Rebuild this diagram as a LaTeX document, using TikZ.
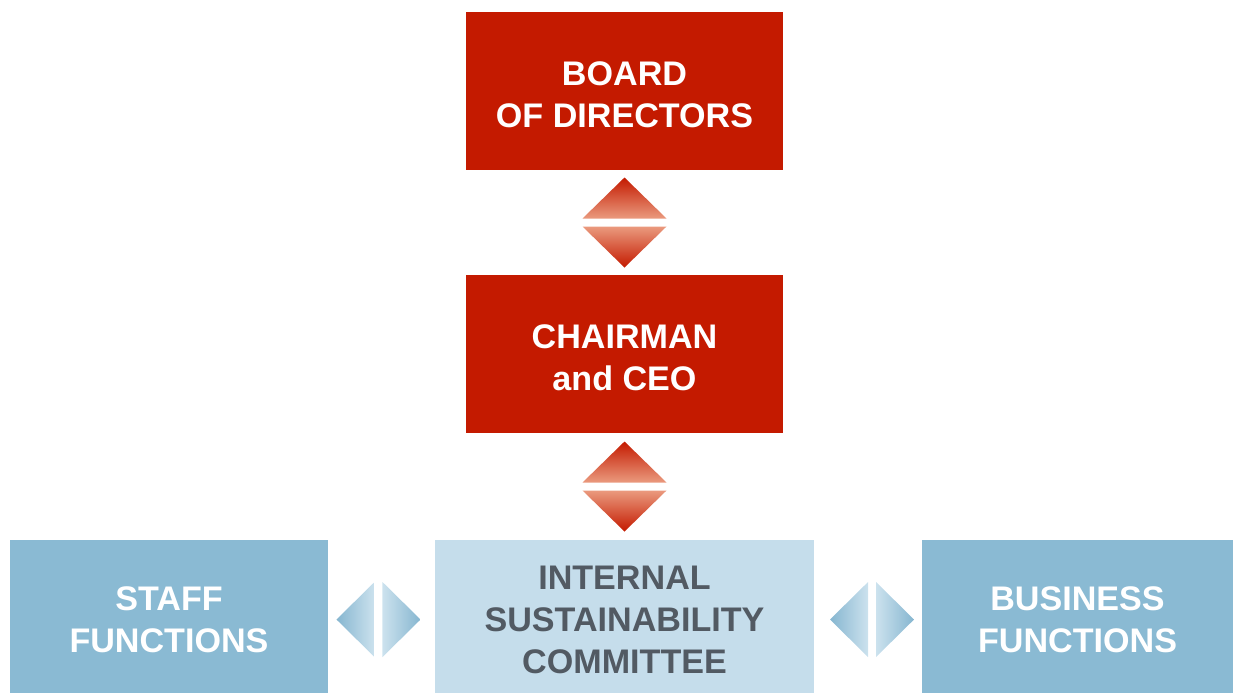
\documentclass[tikz,border=0pt]{standalone}
\usepackage{fontspec}
\setmainfont{Liberation Sans}
\usepackage{xcolor}
\usetikzlibrary{calc}

\definecolor{boardred}{HTML}{C41A00}
\definecolor{arrowred}{HTML}{C41A00}
\definecolor{arrowsalmon}{HTML}{EA9A7E}
\definecolor{funcblue}{HTML}{8ABAD3}
\definecolor{committeeblue}{HTML}{C5DDEB}
\definecolor{committeetext}{HTML}{525A63}
\definecolor{arrowblue}{HTML}{86B6D0}
\definecolor{arrowpale}{HTML}{CCE2EE}

\tikzset{
  orgbox/.style={minimum height=1.58cm, align=center, inner sep=0pt,
    font=\bfseries\fontsize{9.7}{11.9}\selectfont},
  redbox/.style={orgbox, fill=boardred, text=white, minimum width=3.17cm},
  funcbox/.style={orgbox, fill=funcblue, text=white, minimum height=1.53cm},
  committeebox/.style={orgbox, fill=committeeblue, text=committeetext,
    minimum width=3.79cm, minimum height=1.53cm}
}
\newcommand{\lowtext}{\rule{0pt}{8.7pt}}

\begin{document}
\begin{tikzpicture}[x=0.01cm,y=-0.01cm]
\useasboundingbox (0,0) rectangle (1234,693);

\node[redbox] (board) at (624.5,91) {\lowtext BOARD\\OF DIRECTORS};
\node[redbox] (ceo) at (624.5,354) {\lowtext CHAIRMAN\\and CEO};
\node[committeebox] (isc) at (624.5,616.5) {\lowtext INTERNAL\\SUSTAINABILITY\\COMMITTEE};
\node[funcbox, minimum width=3.18cm] (staff) at (169,616.5) {\lowtext STAFF\\FUNCTIONS};
\node[funcbox, minimum width=3.11cm] (business) at (1077.5,616.5) {\lowtext BUSINESS\\FUNCTIONS};

% vertical double arrows
\coordinate (m1) at ($(board.south)!0.5!(ceo.north)$);
\coordinate (m2) at ($(ceo.south)!0.5!(isc.north)$);
\foreach \m in {m1,m2} {
  \shade[top color=arrowred, bottom color=arrowsalmon]
    ($(\m)+(0,-45)$) -- ($(\m)+(42,-4)$) -- ($(\m)+(-42,-4)$) -- cycle;
  \shade[top color=arrowsalmon, bottom color=arrowred]
    ($(\m)+(0,45)$) -- ($(\m)+(42,4)$) -- ($(\m)+(-42,4)$) -- cycle;
}

% horizontal double arrows
\coordinate (m3) at ($(staff.east)!0.5!(isc.west)+(-3,3)$);
\coordinate (m4) at ($(isc.east)!0.5!(business.west)+(4,3)$);
\foreach \m in {m3,m4} {
  \shade[left color=arrowblue, right color=arrowpale]
    ($(\m)+(-42,0)$) -- ($(\m)+(-4,-37.5)$) -- ($(\m)+(-4,37.5)$) -- cycle;
  \shade[left color=arrowpale, right color=arrowblue]
    ($(\m)+(42,0)$) -- ($(\m)+(4,-37.5)$) -- ($(\m)+(4,37.5)$) -- cycle;
}

\end{tikzpicture}
\end{document}
